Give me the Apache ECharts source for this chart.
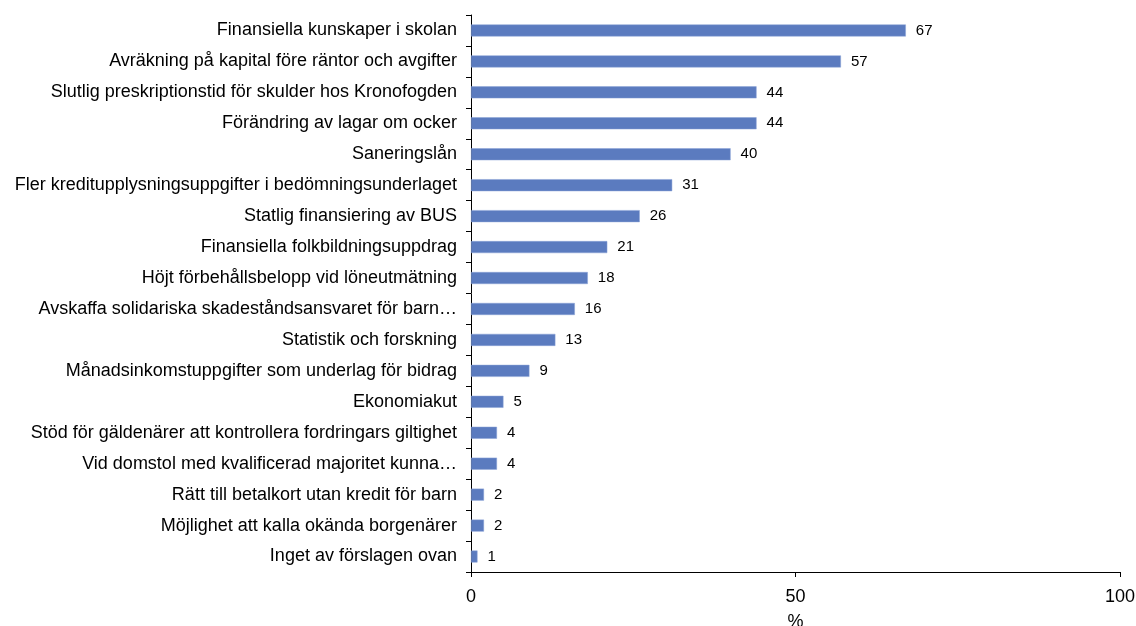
<!DOCTYPE html>
<html>
<head>
<meta charset="utf-8">
<script src="https://cdn.jsdelivr.net/npm/echarts@6/dist/echarts.min.js"></script>
<style>html,body{margin:0;padding:0;background:#fff}#c{width:1136px;height:626px}</style>
</head>
<body>
<div id="c"></div>
<script>
const categories = [
  "Finansiella kunskaper i skolan",
  "Avräkning på kapital före räntor och avgifter",
  "Slutlig preskriptionstid för skulder hos Kronofogden",
  "Förändring av lagar om ocker",
  "Saneringslån",
  "Fler kreditupplysningsuppgifter i bedömningsunderlaget",
  "Statlig finansiering av BUS",
  "Finansiella folkbildningsuppdrag",
  "Höjt förbehållsbelopp vid löneutmätning",
  "Avskaffa solidariska skadeståndsansvaret för barn…",
  "Statistik och forskning",
  "Månadsinkomstuppgifter som underlag för bidrag",
  "Ekonomiakut",
  "Stöd för gäldenärer att kontrollera fordringars giltighet",
  "Vid domstol med kvalificerad majoritet kunna…",
  "Rätt till betalkort utan kredit för barn",
  "Möjlighet att kalla okända borgenärer",
  "Inget av förslagen ovan"
];
const values = [67, 57, 44, 44, 40, 31, 26, 21, 18, 16, 13, 9, 5, 4, 4, 2, 2, 1];
const xTicks = [0, 50, 100];

const chart = echarts.init(document.getElementById('c'), null, {renderer: 'canvas'});
chart.setOption({
  animation: false,
  backgroundColor: '#ffffff',
  grid: {left: 471, right: 16, top: 15, bottom: 54, containLabel: false, outerBoundsMode: 'none'},
  xAxis: {
    type: 'value', min: 0, max: 100, interval: 50,
    name: '%', nameLocation: 'middle', nameGap: 41,
    nameTextStyle: {fontFamily: 'Liberation Sans', fontSize: 18, color: '#000'},
    axisLine: {show: true, lineStyle: {color: '#000', width: 1}},
    axisTick: {show: true, length: 5, lineStyle: {color: '#000'}},
    axisLabel: {fontFamily: 'Liberation Sans', fontSize: 18, color: '#000', margin: 16,
      formatter: v => xTicks.includes(v) ? String(v) : ''},
    splitLine: {show: false}
  },
  yAxis: {
    type: 'category', data: categories, inverse: true,
    axisLine: {show: true, lineStyle: {color: '#000', width: 1}},
    axisTick: {show: true, length: 5, lineStyle: {color: '#000'}},
    axisLabel: {fontFamily: 'Liberation Sans', fontSize: 18, color: '#000', margin: 14}
  },
  series: [{
    type: 'bar', data: values, barWidth: 12,
    itemStyle: {color: '#5b7bbf', borderColor: '#8aa3d6', borderWidth: 0.5},
    label: {show: true, position: 'right', distance: 10, color: '#000',
      fontFamily: 'Liberation Sans', fontSize: 15}
  }]
});
</script>
</body>
</html>
